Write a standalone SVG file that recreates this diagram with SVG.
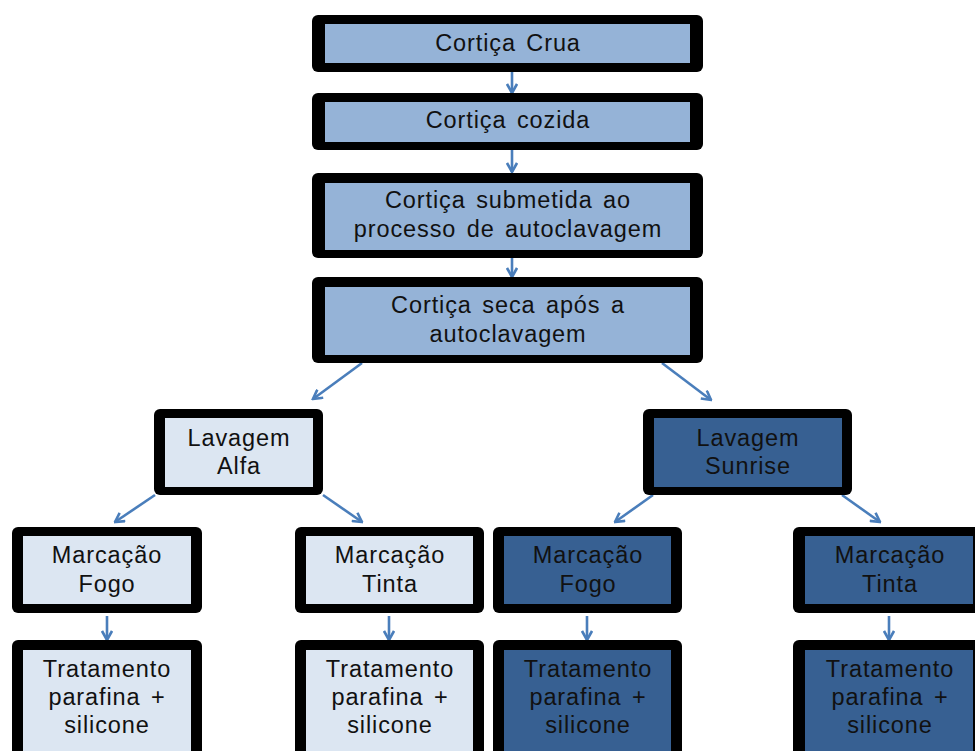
<svg xmlns="http://www.w3.org/2000/svg" width="975" height="751" viewBox="0 0 975 751">
<style>
.frame{fill:#000}
.l1{fill:#95B3D7}
.l2{fill:#DCE6F2}
.l3{fill:#376092}
text{font-family:"Liberation Sans",Arial,sans-serif;font-size:23.5px;letter-spacing:0.9px;word-spacing:3px;fill:#111;text-anchor:middle}
.conn line{stroke:#4A7EBB;stroke-width:2.6;marker-end:url(#ah)}
</style>
<defs>
<marker id="ah" viewBox="0 0 12 12" refX="10.5" refY="6" markerWidth="12" markerHeight="12" markerUnits="userSpaceOnUse" orient="auto">
<path d="M1.5,1 L10.5,6 L1.5,11" fill="none" stroke="#4A7EBB" stroke-width="2.6"/>
</marker>
</defs>
<rect width="975" height="751" fill="#fff"/>
<g class="conn">
<line x1="512" y1="70" x2="512" y2="93"/>
<line x1="512" y1="148" x2="512" y2="172"/>
<line x1="512" y1="256" x2="512" y2="277"/>
<line x1="362" y1="363" x2="313" y2="399"/>
<line x1="662" y1="363" x2="711" y2="400"/>
<line x1="155" y1="495" x2="115" y2="522"/>
<line x1="323" y1="495" x2="362" y2="522"/>
<line x1="653" y1="495" x2="615" y2="522"/>
<line x1="842" y1="495" x2="880" y2="522"/>
<line x1="107" y1="616" x2="107" y2="640"/>
<line x1="389" y1="616" x2="389" y2="640"/>
<line x1="587" y1="616" x2="587" y2="640"/>
<line x1="889" y1="616" x2="889" y2="640"/>
</g>
<g id="n1"><rect class="frame" x="312" y="15" width="391" height="57" rx="6"/><rect class="l1" x="325" y="24" width="365" height="39"/><text x="508" y="51">Cortiça Crua</text></g>
<g id="n2"><rect class="frame" x="312" y="93" width="391" height="57" rx="6"/><rect class="l1" x="325" y="102" width="365" height="40"/><text x="508" y="128">Cortiça cozida</text></g>
<g id="n3"><rect class="frame" x="312" y="173" width="391" height="85" rx="6"/><rect class="l1" x="325" y="183" width="365" height="67"/><text x="508" y="208">Cortiça submetida ao</text><text x="508" y="237">processo de autoclavagem</text></g>
<g id="n4"><rect class="frame" x="312" y="277" width="391" height="86" rx="6"/><rect class="l1" x="325" y="287" width="365" height="68"/><text x="508" y="313">Cortiça seca após a</text><text x="508" y="342">autoclavagem</text></g>
<g id="n5"><rect class="frame" x="154" y="409" width="169" height="86" rx="6"/><rect class="l2" x="165" y="418" width="148" height="69"/><text x="239" y="446">Lavagem</text><text x="239" y="474">Alfa</text></g>
<g id="n6"><rect class="frame" x="643" y="409" width="209" height="86" rx="6"/><rect class="l3" x="654" y="418" width="188" height="69"/><text x="748" y="446">Lavagem</text><text x="748" y="474">Sunrise</text></g>
<g id="n7"><rect class="frame" x="12" y="527" width="190" height="86" rx="6"/><rect class="l2" x="23" y="536" width="168" height="68"/><text x="107" y="563">Marcação</text><text x="107" y="592">Fogo</text></g>
<g id="n8"><rect class="frame" x="295" y="527" width="189" height="86" rx="6"/><rect class="l2" x="306" y="536" width="167" height="68"/><text x="390" y="563">Marcação</text><text x="390" y="592">Tinta</text></g>
<g id="n9"><rect class="frame" x="493" y="527" width="189" height="86" rx="6"/><rect class="l3" x="504" y="536" width="167" height="68"/><text x="588" y="563">Marcação</text><text x="588" y="592">Fogo</text></g>
<g id="n10"><rect class="frame" x="793" y="527" width="190" height="86" rx="6"/><rect class="l3" x="805" y="536" width="168" height="68"/><text x="890" y="563">Marcação</text><text x="890" y="592">Tinta</text></g>
<g id="n11"><rect class="frame" x="12" y="640" width="190" height="125" rx="6"/><rect class="l2" x="23" y="650" width="168" height="110"/><text x="107" y="677">Tratamento</text><text x="107" y="705">parafina +</text><text x="107" y="733">silicone</text></g>
<g id="n12"><rect class="frame" x="295" y="640" width="189" height="125" rx="6"/><rect class="l2" x="306" y="650" width="167" height="110"/><text x="390" y="677">Tratamento</text><text x="390" y="705">parafina +</text><text x="390" y="733">silicone</text></g>
<g id="n13"><rect class="frame" x="493" y="640" width="189" height="125" rx="6"/><rect class="l3" x="504" y="650" width="167" height="110"/><text x="588" y="677">Tratamento</text><text x="588" y="705">parafina +</text><text x="588" y="733">silicone</text></g>
<g id="n14"><rect class="frame" x="793" y="640" width="190" height="125" rx="6"/><rect class="l3" x="805" y="650" width="168" height="110"/><text x="890" y="677">Tratamento</text><text x="890" y="705">parafina +</text><text x="890" y="733">silicone</text></g>
</svg>
